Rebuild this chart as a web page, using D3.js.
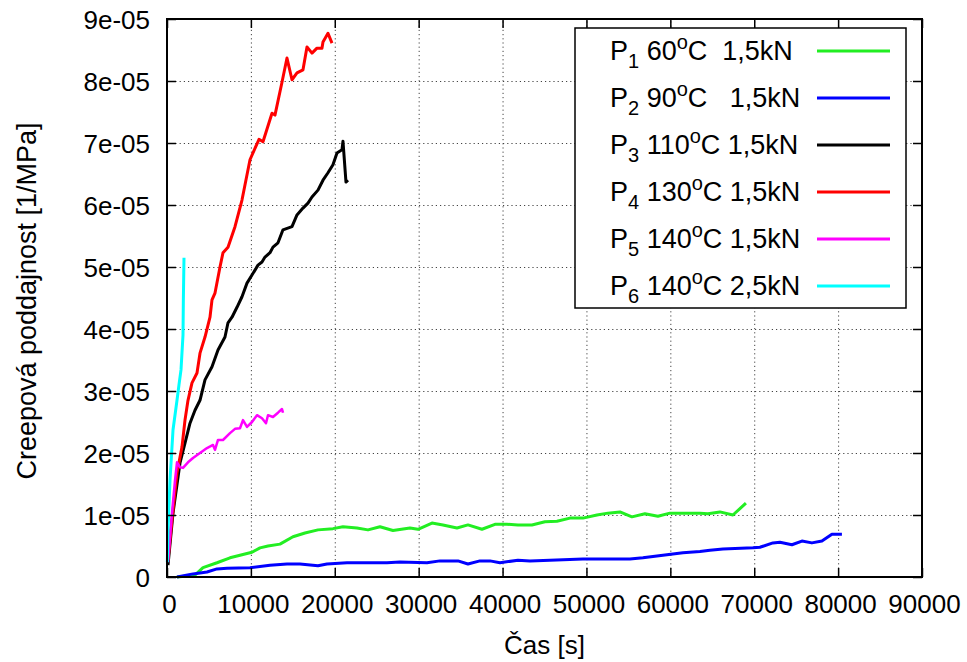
<!DOCTYPE html>
<html>
<head>
<meta charset="utf-8">
<script src="https://cdn.jsdelivr.net/npm/d3@7"></script>
<style>
  body { margin: 0; background: #fff; }
  text { font-family: "Liberation Sans", Arial, sans-serif; fill: #000; }
  .grid line { stroke: #444; stroke-width: 1; stroke-dasharray: 1.2, 3; }
  .grid path { display: none; }
  .axis path { display: none; }
  .axis line { stroke: #000; stroke-width: 1.5; }
</style>
</head>
<body>
<svg class="chart" width="967" height="662"></svg>
<script>
// compliance values are in units of 1e-05 [1/MPa]
const p1Time = [1192, 3337, 4291, 5959, 7509, 8701, 10131, 11085, 12038, 13468, 15018, 16448, 17998, 19785, 20977, 22646, 23957, 25387, 26937, 28963, 29917, 31585, 32896, 34565, 35876, 37545, 39094, 40524, 41836, 43504, 45054, 46484, 48033, 49583, 51252, 52563, 53993, 55423, 56973, 58522, 59952, 61502, 63528, 64482, 65912, 67461, 69011];
const p1Comp = [0, 0.03, 0.15, 0.23, 0.31, 0.35, 0.40, 0.47, 0.50, 0.53, 0.65, 0.71, 0.76, 0.78, 0.81, 0.79, 0.76, 0.81, 0.75, 0.79, 0.77, 0.87, 0.84, 0.79, 0.84, 0.77, 0.85, 0.85, 0.84, 0.84, 0.89, 0.90, 0.95, 0.95, 1.00, 1.03, 1.05, 0.97, 1.02, 0.98, 1.03, 1.03, 1.03, 1.02, 1.05, 1.00, 1.19];

const p2Time = [1192, 3099, 4768, 5959, 7151, 9893, 12276, 14303, 15852, 17998, 19070, 21454, 23838, 26222, 27771, 30989, 32539, 34684, 35876, 37306, 38498, 39690, 41836, 43266, 45650, 49583, 55185, 56734, 59118, 61502, 63528, 64720, 66269, 69845, 70679, 72229, 73063, 74493, 75685, 76877, 78069, 79261, 80453];
const p2Comp = [0, 0.05, 0.08, 0.13, 0.14, 0.15, 0.19, 0.21, 0.21, 0.18, 0.21, 0.23, 0.23, 0.23, 0.24, 0.23, 0.26, 0.26, 0.21, 0.26, 0.26, 0.23, 0.27, 0.26, 0.27, 0.29, 0.29, 0.31, 0.35, 0.39, 0.41, 0.43, 0.45, 0.47, 0.48, 0.55, 0.56, 0.52, 0.58, 0.55, 0.58, 0.69, 0.69];

const p3Time = [119, 715, 1549, 2145, 2741, 3337, 3933, 4529, 5364, 6079, 6913, 7271, 7747, 8343, 8939, 9535, 10131, 10846, 11323, 11681, 12276, 12634, 13230, 13826, 14899, 15495, 16210, 16806, 17282, 17998, 18594, 19190, 19785, 20262, 20858, 20977, 21335, 21573];
const p3Comp = [0.19, 1.03, 1.84, 2.16, 2.48, 2.69, 2.85, 3.18, 3.39, 3.66, 3.87, 4.10, 4.19, 4.35, 4.52, 4.74, 4.87, 5.03, 5.08, 5.16, 5.23, 5.32, 5.39, 5.60, 5.65, 5.84, 5.95, 6.03, 6.13, 6.24, 6.40, 6.52, 6.65, 6.84, 6.89, 7.03, 6.37, 6.40];

const p4Time = [119, 596, 1192, 1788, 2145, 2503, 2980, 3576, 3933, 4529, 5125, 5364, 5721, 6317, 6675, 7271, 8105, 8939, 9893, 10965, 11442, 12515, 12872, 13707, 14303, 14899, 15495, 16210, 16687, 17282, 17878, 18474, 18594, 19190, 19666];
const p4Comp = [0.27, 0.92, 1.68, 2.10, 2.53, 2.85, 3.13, 3.29, 3.61, 3.87, 4.19, 4.47, 4.58, 5.00, 5.23, 5.32, 5.65, 6.08, 6.73, 7.06, 7.02, 7.48, 7.45, 7.98, 8.37, 8.02, 8.13, 8.18, 8.55, 8.45, 8.53, 8.53, 8.63, 8.77, 8.61];

const p5Time = [119, 596, 954, 1192, 1549, 1907, 2503, 3099, 3933, 4768, 5483, 5721, 6079, 6675, 7509, 8105, 8701, 9058, 9535, 10131, 10727, 11323, 11800, 12038, 12634, 13230, 13707, 13826];
const p5Comp = [0.24, 1.03, 1.56, 1.85, 1.77, 1.76, 1.85, 1.92, 2.00, 2.08, 2.13, 2.05, 2.21, 2.21, 2.32, 2.39, 2.40, 2.53, 2.42, 2.50, 2.61, 2.56, 2.48, 2.61, 2.58, 2.65, 2.71, 2.65];

const p6Time = [40, 119, 358, 715, 1192, 1430, 1669, 1907, 1950, 2026];
const p6Comp = [0.24, 0.76, 1.56, 2.37, 2.85, 3.10, 3.34, 3.90, 4.47, 5.15];

const seriesColors = ["#22ee22", "#0000ff", "#000000", "#ff0000", "#ff00ff", "#00ffff"];
const legendTemp = ["60", "90", "110", "130", "140", "140"];
const legendTail = ["C  1,5kN", "C   1,5kN", "C 1,5kN", "C 1,5kN", "C 1,5kN", "C 2,5kN"];

const xTicks = [0, 10000, 20000, 30000, 40000, 50000, 60000, 70000, 80000, 90000];
const yTicks = [0, 1, 2, 3, 4, 5, 6, 7, 8, 9];

const series = [
  [p1Time, p1Comp], [p2Time, p2Comp], [p3Time, p3Comp],
  [p4Time, p4Comp], [p5Time, p5Comp], [p6Time, p6Comp]
].map(([t, c]) => t.map((d, i) => ({ t: d, c: c[i] })));

const margin = { left: 167, top: 19, right: 45, bottom: 85 };
const width = 967 - margin.left - margin.right;
const height = 662 - margin.top - margin.bottom;

const svg = d3.select(".chart");
const chart = svg.append("g").attr("transform", `translate(${margin.left}, ${margin.top})`);

const xScale = d3.scaleLinear().domain([0, 90000]).range([0, width]);
const yScale = d3.scaleLinear().domain([0, 9]).range([height, 0]);

// dotted grid
chart.append("g").attr("class", "grid")
  .attr("transform", `translate(0, ${height})`)
  .call(d3.axisBottom(xScale).tickValues(xTicks).tickSize(-height).tickFormat(""));
chart.append("g").attr("class", "grid")
  .call(d3.axisLeft(yScale).tickValues(yTicks).tickSize(-width).tickFormat(""));

// data lines
const line = d3.line().x(d => xScale(d.t)).y(d => yScale(d.c));
series.forEach((s, i) => {
  chart.append("path")
    .datum(s)
    .attr("fill", "none")
    .attr("stroke", seriesColors[i])
    .attr("stroke-width", i === 4 ? 2.5 : 3)
    .attr("stroke-linejoin", "round")
    .attr("d", line);
});

// axes with inward ticks on all sides
const bottom = chart.append("g").attr("class", "axis")
  .attr("transform", `translate(0, ${height})`)
  .call(d3.axisBottom(xScale).tickValues(xTicks).tickSizeInner(-9).tickSizeOuter(0).tickPadding(18).tickFormat(d3.format("d")));
bottom.selectAll("text").style("font-size", "26px").attr("dx", 2);

const left = chart.append("g").attr("class", "axis")
  .call(d3.axisLeft(yScale).tickValues(yTicks).tickSizeInner(-9).tickSizeOuter(0).tickPadding(17)
    .tickFormat(d => d === 0 ? "0" : d + "e-05"));
left.selectAll("text").style("font-size", "26px").attr("dy", "0.38em");

chart.append("g").attr("class", "axis")
  .call(d3.axisTop(xScale).tickValues(xTicks).tickSizeInner(-9).tickSizeOuter(0).tickFormat(""));
chart.append("g").attr("class", "axis")
  .attr("transform", `translate(${width}, 0)`)
  .call(d3.axisRight(yScale).tickValues(yTicks).tickSizeInner(-9).tickSizeOuter(0).tickFormat(""));

// frame
chart.append("rect")
  .attr("width", width).attr("height", height)
  .attr("fill", "none").attr("stroke", "#000").attr("stroke-width", 2);

// axis titles
chart.append("text")
  .attr("x", width / 2)
  .attr("y", height + 77)
  .attr("text-anchor", "middle")
  .style("font-size", "26px")
  .text("Čas [s]");

chart.append("text")
  .attr("transform", "rotate(-90)")
  .attr("x", -282)
  .attr("y", -131)
  .attr("text-anchor", "middle")
  .style("font-size", "27px")
  .text("Creepová poddajnost [1/MPa]");

// legend
const legend = chart.append("g").attr("transform", `translate(${575 - margin.left}, ${28 - margin.top})`);
legend.append("rect")
  .attr("width", 331).attr("height", 280)
  .attr("fill", "#fff").attr("stroke", "#000").attr("stroke-width", 1.5);

legendTemp.forEach((temp, i) => {
  const y = 23 + i * 47;
  legend.append("line")
    .attr("x1", 242).attr("x2", 315)
    .attr("y1", y).attr("y2", y)
    .attr("stroke", seriesColors[i]).attr("stroke-width", 3);
  const t = legend.append("text")
    .attr("x", 35).attr("y", y + 9)
    .style("font-size", "27px")
    .style("white-space", "pre");
  t.append("tspan").text("P");
  t.append("tspan").attr("dy", 8).style("font-size", "20px").text(i + 1);
  t.append("tspan").attr("dy", -8).text(" " + temp);
  t.append("tspan").attr("dy", -11).style("font-size", "20px").text("o");
  t.append("tspan").attr("dy", 11).text(legendTail[i]);
});
</script>
</body>
</html>
